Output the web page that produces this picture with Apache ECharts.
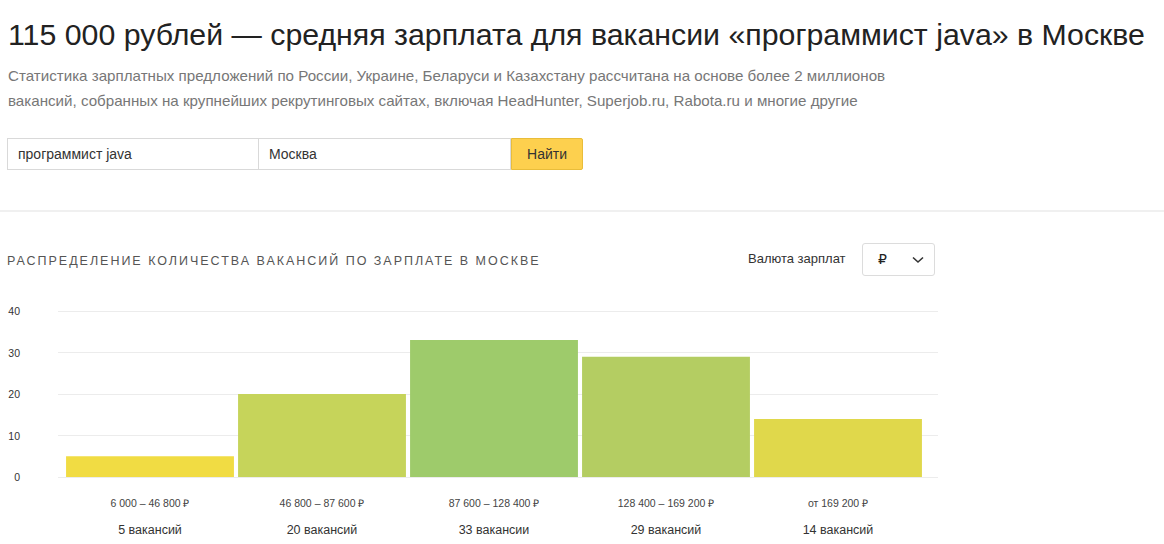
<!DOCTYPE html>
<html lang="ru">
<head>
<meta charset="utf-8">
<script src="https://cdn.jsdelivr.net/npm/echarts@6/dist/echarts.min.js"></script>
<style>
  html, body { margin: 0; padding: 0; background: #fff; }
  body { width: 1164px; height: 544px; position: relative; overflow: hidden;
         font-family: "Liberation Sans", Arial, "DejaVu Sans", sans-serif; }
  .abs { position: absolute; white-space: nowrap; }
  #title { left: 8px; top: 15px; font-size: 30.3px; color: #222; line-height: 40px; }
  #sub { left: 8px; top: 63px; font-size: 15.15px; color: #777; line-height: 25px; }
  #form { left: 7px; top: 138px; height: 32px; display: flex; }
  .inp { box-sizing: border-box; height: 32px; border: 1px solid #d9d9d9; background: #fff;
         font-size: 14px; color: #333; line-height: 30px; padding-left: 10px; }
  #in1 { width: 252px; }
  #in2 { width: 252px; border-left: none; }
  #btn { box-sizing: border-box; width: 72px; height: 32px; background: #fdd04e; border: 1px solid #e9bd3a;
         border-radius: 0 2px 2px 0; font-size: 14px; color: #333; line-height: 30px; text-align: center; }
  #sep { left: 0; top: 210px; width: 1164px; height: 2px; background: #f0f0f0; }
  #sect { left: 7px; top: 253px; font-size: 12.5px; color: #555; letter-spacing: 1.98px; line-height: 16px; }
  #cur { left: 748px; top: 251px; font-size: 13px; color: #333; line-height: 16px; }
  #dd { left: 862px; top: 243px; width: 73px; height: 33px; box-sizing: border-box;
        border: 1px solid #dcdcdc; border-radius: 3px; background: #fff; }
  #dd .rub { position: absolute; left: 15px; top: 7px; font-size: 14px; color: #222; }
  #dd svg { position: absolute; left: 49px; top: 12px; }
  #chart { position: absolute; left: 0; top: 280px; width: 1164px; height: 264px; }
</style>
</head>
<body>
<div id="title" class="abs">115 000 рублей — средняя зарплата для вакансии «программист java» в Москве</div>
<div id="sub" class="abs">Статистика зарплатных предложений по России, Украине, Беларуси и Казахстану рассчитана на основе более 2 миллионов<br>вакансий, собранных на крупнейших рекрутинговых сайтах, включая HeadHunter, Superjob.ru, Rabota.ru и многие другие</div>
<div id="form" class="abs">
  <div id="in1" class="inp">программист java</div>
  <div id="in2" class="inp">Москва</div>
  <div id="btn">Найти</div>
</div>
<div id="sep" class="abs"></div>
<div id="sect" class="abs">РАСПРЕДЕЛЕНИЕ КОЛИЧЕСТВА ВАКАНСИЙ ПО ЗАРПЛАТЕ В МОСКВЕ</div>
<div id="cur" class="abs">Валюта зарплат</div>
<div id="dd" class="abs"><span class="rub">₽</span>
  <svg width="12" height="8" viewBox="0 0 12 8"><polyline points="1,1.5 6,6 11,1.5" fill="none" stroke="#333" stroke-width="1.6"/></svg>
</div>
<div id="chart"></div>
<script>
const salaryRanges = ["6 000 – 46 800 ₽", "46 800 – 87 600 ₽", "87 600 – 128 400 ₽", "128 400 – 169 200 ₽", "от 169 200 ₽"];
const vacancyCounts = [5, 20, 33, 29, 14];
const countLabels = ["5 вакансий", "20 вакансий", "33 вакансии", "29 вакансий", "14 вакансий"];
const barColors = ["#f1dc43", "#c6d45a", "#9ecb6b", "#b4cd62", "#e0d84b"];
const yTicks = [0, 10, 20, 30, 40];

const yMin = yTicks[0], yMax = yTicks[yTicks.length - 1], yStep = yTicks[1] - yTicks[0];
const chart = echarts.init(document.getElementById('chart'), null, { renderer: 'svg' });
chart.setOption({
  animation: false,
  grid: [
    { left: 58, right: 226, top: 31, height: 166 },
    { left: 64, right: 240, top: 31, height: 166 }
  ],
  xAxis: [
    { gridIndex: 0, type: 'value', show: false, min: 0, max: 1 },
    {
      gridIndex: 1,
      type: 'category',
      data: salaryRanges,
      axisLine: { show: false },
      axisTick: { show: false },
      axisLabel: {
        margin: 12,
        interval: 0,
        formatter: function (v, i) { return '{r|' + v + '}\n{c|' + countLabels[i] + '}'; },
        rich: {
          r: { fontSize: 10.5, color: '#444', lineHeight: 27, fontFamily: 'Liberation Sans' },
          c: { fontSize: 12.5, color: '#333', lineHeight: 27, fontFamily: 'Liberation Sans' }
        }
      }
    }
  ],
  yAxis: [
    {
      gridIndex: 0,
      type: 'value',
      min: yMin, max: yMax, interval: yStep,
      axisLine: { show: false },
      axisTick: { show: false },
      axisLabel: { margin: 38, fontSize: 10.5, color: '#333', fontFamily: 'Liberation Sans' },
      splitLine: { lineStyle: { color: '#ececec', width: 1 } }
    },
    {
      gridIndex: 1,
      type: 'value',
      min: yMin, max: yMax, interval: yStep,
      show: false,
      splitLine: { show: false }
    }
  ],
  series: [{
    type: 'bar',
    xAxisIndex: 1,
    yAxisIndex: 1,
    barCategoryGap: '2.4%',
    data: vacancyCounts.map(function (v, i) { return { value: v, itemStyle: { color: barColors[i] } }; })
  }]
});
</script>
</body>
</html>
